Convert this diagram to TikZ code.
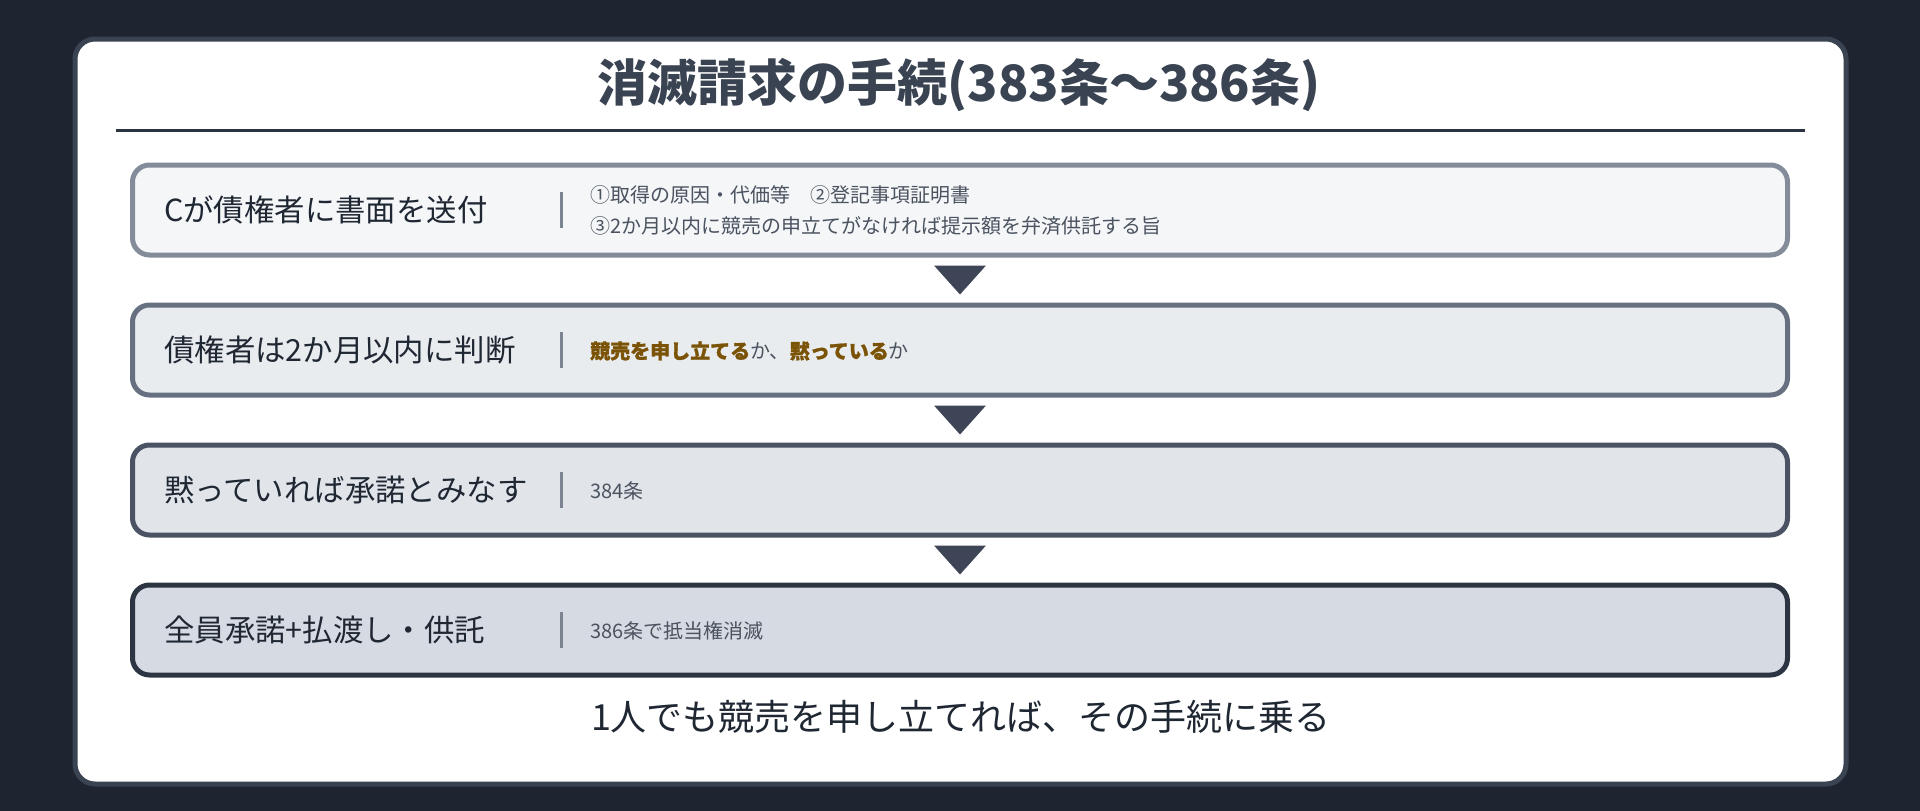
\documentclass[tikz,border=0pt]{standalone}
\usepackage{fontspec}
\setmainfont{Noto Sans CJK JP}
\usetikzlibrary{calc}
\definecolor{bgc}{HTML}{1E2430}
\definecolor{panelc}{HTML}{3A4352}
\definecolor{titlec}{HTML}{3A4352}
\definecolor{rulec}{HTML}{2B3240}
\definecolor{boxAd}{HTML}{858C99}
\definecolor{boxAf}{HTML}{F4F6F8}
\definecolor{boxBd}{HTML}{667080}
\definecolor{boxBf}{HTML}{E9ECEF}
\definecolor{boxCd}{HTML}{4A5263}
\definecolor{boxCf}{HTML}{E1E5EA}
\definecolor{boxDd}{HTML}{2E3542}
\definecolor{boxDf}{HTML}{D6DAE2}
\definecolor{arrowc}{HTML}{3D4556}
\definecolor{sepc}{HTML}{7C8492}
\definecolor{labelc}{HTML}{1F2733}
\definecolor{descc}{HTML}{4B5360}
\definecolor{hlc}{HTML}{7A5306}
\newcommand{\hlt}[1]{{\bfseries\addfontfeature{FakeBold=1.2}\color{hlc}#1}}
\begin{document}
\begin{tikzpicture}[x=1pt,y=-1pt,
  panel/.style={draw=panelc, fill=white, line width=5pt, rounded corners=20pt, minimum width=1771pt, minimum height=745pt, inner sep=0pt},
  stepbox/.style={line width=5pt, rounded corners=17pt, minimum width=1655pt, minimum height=90pt, inner sep=0pt},
  label/.style={anchor=west, inner sep=0pt, text=labelc, font=\fontsize{30.4}{36}\selectfont},
  desc/.style={anchor=west, inner sep=0pt, text=descc, align=left, font=\fontsize{20}{31}\selectfont},
  sepbar/.style={draw=sepc, line width=3pt},
  tri/.style={fill=arrowc}
]
\useasboundingbox (0,0) rectangle (1920,811);
\fill[bgc] (0,0) rectangle (1920,811);
\node[panel] (panel) at (960.5,411.5) {};
\node[text=titlec, font=\fontsize{50}{56}\selectfont\bfseries, inner sep=0pt] (title) at (959,85) {消滅請求の手続(383条〜386条)};
\coordinate (rl) at (116,130);
\coordinate (rr) at (1805,130);
\draw[rulec, line width=3pt] (rl) -- (rr);

\node[stepbox, draw=boxAd, fill=boxAf] (b1) at (960,210) {};
\node[stepbox, draw=boxBd, fill=boxBf] (b2) at (960,350) {};
\node[stepbox, draw=boxCd, fill=boxCf] (b3) at (960,490) {};
\node[stepbox, draw=boxDd, fill=boxDf] (b4) at (960,630) {};

\foreach \b in {b1,b2,b3,b4}{
  \draw[sepbar] ($(\b.center)+(-399,-18)$) -- ($(\b.center)+(-399,18)$);
}

\node[label] (l1) at (164,210) {Cが債権者に書面を送付};
\node[label] (l2) at (164,350) {債権者は2か月以内に判断};
\node[label] (l3) at (164,490) {黙っていれば承諾とみなす};
\node[label] (l4) at (164,630) {全員承諾+払渡し・供託};

\node[desc] (d1) at (590,210) {①取得の原因・代価等　②登記事項証明書\\③2か月以内に競売の申立てがなければ提示額を弁済供託する旨};
\node[desc] (d2) at (590,351) {\hlt{競売を申し立てる}か、\hlt{黙っている}か};
\node[desc] (d3) at (590,491) {384条};
\node[desc] (d4) at (590,631) {386条で抵当権消滅};

\foreach \a/\c in {b1/b2,b2/b3,b3/b4}{
  \fill[tri] ($(\a.south)+(-26,8)$) -- ($(\a.south)+(26,8)$) -- ($(\c.north)+(0,-8)$) -- cycle;
}

\node[text=labelc, font=\fontsize{36}{42}\selectfont, inner sep=0pt] (foot) at (961,717) {1人でも競売を申し立てれば、その手続に乗る};
\end{tikzpicture}
\end{document}
